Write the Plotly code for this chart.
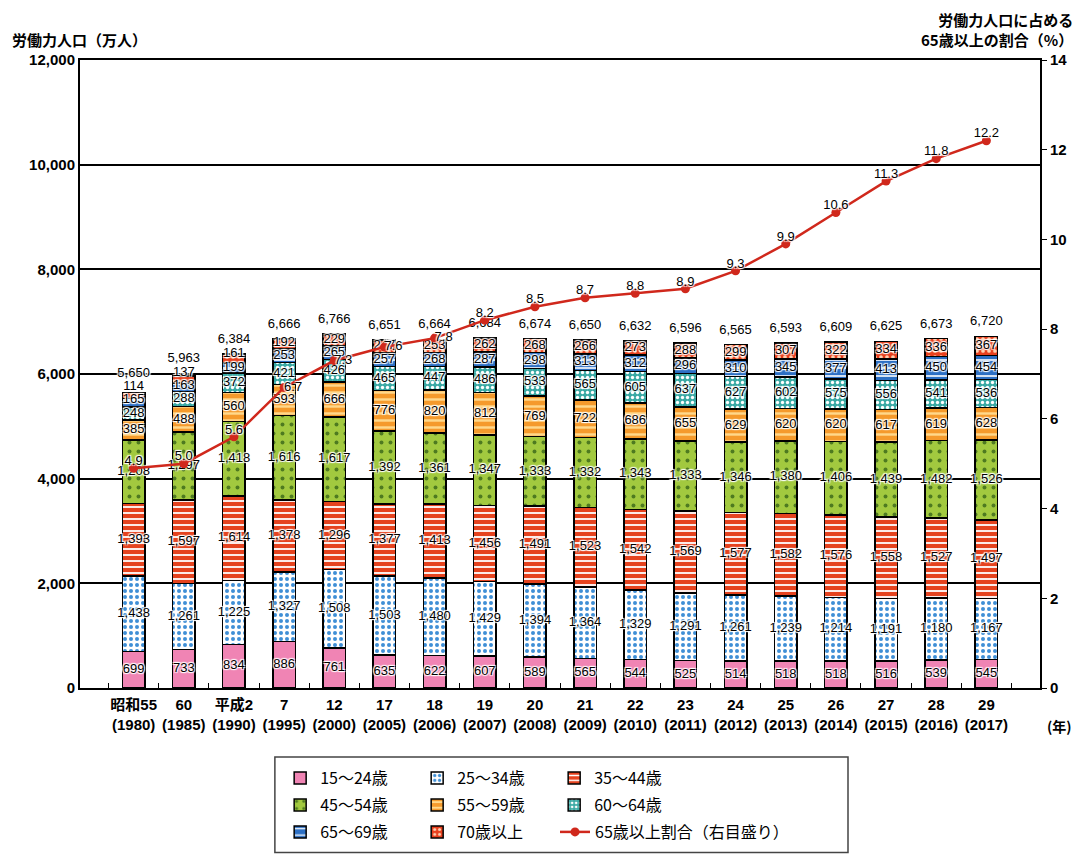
import plotly.graph_objects as go

categories = ["昭和55<br>(1980)", "60<br>(1985)", "平成2<br>(1990)", "7<br>(1995)", "12<br>(2000)",
              "17<br>(2005)", "18<br>(2006)", "19<br>(2007)", "20<br>(2008)", "21<br>(2009)",
              "22<br>(2010)", "23<br>(2011)", "24<br>(2012)", "25<br>(2013)", "26<br>(2014)",
              "27<br>(2015)", "28<br>(2016)", "29<br>(2017)"]

age_15_24 = [699, 733, 834, 886, 761, 635, 622, 607, 589, 565, 544, 525, 514, 518, 518, 516, 539, 545]
age_25_34 = [1438, 1261, 1225, 1327, 1508, 1503, 1480, 1429, 1394, 1364, 1329, 1291, 1261, 1239, 1214, 1191, 1180, 1167]
age_35_44 = [1393, 1597, 1614, 1378, 1296, 1377, 1413, 1456, 1491, 1523, 1542, 1569, 1577, 1582, 1576, 1558, 1527, 1497]
age_45_54 = [1208, 1297, 1418, 1616, 1617, 1392, 1361, 1347, 1333, 1332, 1343, 1333, 1346, 1380, 1406, 1439, 1482, 1526]
age_55_59 = [385, 488, 560, 593, 666, 776, 820, 812, 769, 722, 686, 655, 629, 620, 620, 617, 619, 628]
age_60_64 = [248, 288, 372, 421, 426, 465, 447, 486, 533, 565, 605, 637, 627, 602, 575, 556, 541, 536]
age_65_69 = [165, 163, 199, 253, 265, 257, 268, 287, 298, 313, 312, 296, 310, 345, 377, 413, 450, 454]
age_70_up = [114, 137, 161, 192, 229, 247, 253, 262, 268, 266, 273, 288, 299, 307, 322, 334, 336, 367]
totals = [5650, 5963, 6384, 6666, 6766, 6651, 6664, 6684, 6674, 6650, 6632, 6596, 6565, 6593, 6609, 6625, 6673, 6720]
ratio_65 = [4.9, 5.0, 5.6, 6.7, 7.3, 7.6, 7.8, 8.2, 8.5, 8.7, 8.8, 8.9, 9.3, 9.9, 10.6, 11.3, 11.8, 12.2]

series_names = ["15～24歳", "25～34歳", "35～44歳", "45～54歳", "55～59歳", "60～64歳", "65～69歳", "70歳以上"]
series_vals = [age_15_24, age_25_34, age_35_44, age_45_54, age_55_59, age_60_64, age_65_69, age_70_up]

# styles: (bg, pattern shape, fg, size, solidity, legend)
styles = [
    ("#F084B4", "", "#F084B4", 8, 0.2, "legend"),
    ("#FFFFFF", ".", "#3F8FD6", 6, 0.35, "legend"),
    ("#E5431F", "-", "#FFFFFF", 6, 0.3, "legend"),
    ("#A2C93F", ".", "#4E7A20", 9, 0.15, "legend2"),
    ("#F59A2C", "-", "#FFD88A", 7, 0.35, "legend2"),
    ("#3AA9A4", ".", "#FFFFFF", 5, 0.35, "legend2"),
    ("#2C6FC4", "-", "#FFFFFF", 8, 0.2, "legend3"),
    ("#E8401E", ".", "#FFD0B0", 6, 0.3, "legend3"),
]

FONT = "Liberation Sans, Arial, Noto Sans CJK JP"
NARROW = "Liberation Sans Narrow, Liberation Sans, Noto Sans CJK JP"
CJK = "Noto Sans CJK JP, Liberation Sans"
HALO = "1px 1px 1px #fff, -1px -1px 1px #fff, 1px -1px 1px #fff, -1px 1px 1px #fff"

fig = go.Figure()
for name, vals, st in zip(series_names, series_vals, styles):
    bg, shape, fg, size, sol, leg = st
    fig.add_trace(go.Bar(
        x=categories, y=vals, name=name, legend=leg,
        marker=dict(color=bg, line=dict(color="black", width=1.5),
                    pattern=dict(shape=shape, fgcolor=fg, bgcolor=bg, size=size,
                                 solidity=sol, fillmode="replace")),
        hoverinfo="skip",
    ))

# segment label positions (data units) with minimum spacing
GAP = 255
lx, ly, lt = [], [], []
tx, ty, tt = [], [], []
for i, cat in enumerate(categories):
    cum = 0
    prev = None
    for vals in series_vals:
        v = vals[i]
        mid = cum + v / 2
        cum += v
        pos = mid if prev is None else max(mid, prev + GAP)
        prev = pos
        lx.append(cat); ly.append(pos); lt.append(f"{v:,}")
    tx.append(cat)
    ty.append(max(totals[i] + 270, prev + GAP))
    tt.append(f"{totals[i]:,}")

fig.add_trace(go.Scatter(
    x=lx, y=ly, text=lt, mode="text", showlegend=False, hoverinfo="skip",
    textfont=dict(family=FONT, size=13, color="black", shadow=HALO),
))
fig.add_trace(go.Scatter(
    x=tx, y=ty, text=tt, mode="text", showlegend=False, hoverinfo="skip",
    textfont=dict(family=FONT, size=13, color="black", shadow=HALO),
))

fig.add_trace(go.Scatter(
    x=categories, y=ratio_65, yaxis="y2", name="65歳以上割合（右目盛り）", legend="legend4",
    mode="lines+markers", line=dict(color="#D0281C", width=2.5),
    marker=dict(color="#D0281C", size=9), hoverinfo="skip",
))
ratio_pos = ["top center"] * 3 + ["middle right"] * 4 + ["top center"] * 11
fig.add_trace(go.Scatter(
    x=categories, y=ratio_65, yaxis="y2", text=[f"{r:.1f}" for r in ratio_65],
    mode="text", textposition=ratio_pos, showlegend=False, hoverinfo="skip",
    textfont=dict(family=FONT, size=13, color="black", shadow=HALO),
))

leg_common = dict(orientation="h", xref="container", yref="container", xanchor="left",
                  yanchor="middle", entrywidth=92, entrywidthmode="pixels",
                  bgcolor="rgba(0,0,0,0)", font=dict(family=CJK, size=16, color="black"),
                  itemwidth=30, traceorder="normal")

fig.update_layout(
    width=1080, height=846,
    margin=dict(l=72, r=48, t=52, b=166),
    paper_bgcolor="white", plot_bgcolor="white",
    barmode="stack", bargap=0.55,
    font=dict(family=FONT, color="black"),
    xaxis=dict(type="category", showline=True, linecolor="black", linewidth=2, mirror=True,
               ticks="inside", tickson="boundaries", ticklen=5, tickcolor="black", tickangle=0,
               ticklabelstandoff=2,
               tickfont=dict(family=NARROW, size=15, color="black", weight="bold"), showgrid=False),
    yaxis=dict(range=[0, 12000], dtick=2000, tickformat=",", showgrid=True, gridcolor="black",
               gridwidth=1.5, showline=True, linecolor="black", linewidth=2, zeroline=False,
               tickfont=dict(family=FONT, size=15, color="black", weight="bold")),
    yaxis2=dict(range=[0, 14], dtick=2, overlaying="y", side="right", showgrid=False,
                showline=True, linecolor="black", linewidth=2, ticks="outside", ticklen=5,
                tickcolor="black", zeroline=False,
                tickfont=dict(family=FONT, size=15, color="black", weight="bold")),
    legend=dict(x=0.252, y=0.0898, **leg_common),
    legend2=dict(x=0.252, y=0.0579, **leg_common),
    legend3=dict(x=0.252, y=0.0260, **leg_common),
    legend4=dict(x=0.5065, y=0.0260, **{**leg_common, "entrywidth": 260}),
    shapes=[dict(type="rect", xref="paper", yref="paper", x0=0.203, x1=0.8, y0=-0.262, y1=-0.11,
                 line=dict(color="#444", width=1.5), fillcolor="rgba(0,0,0,0)", layer="below")],
    annotations=[
        dict(text="労働力人口（万人）", xref="paper", yref="paper", x=-0.073, y=1.012,
             xanchor="left", yanchor="bottom", showarrow=False,
             font=dict(family=CJK, size=15, color="black", weight="bold")),
        dict(text="労働力人口に占める<br>65歳以上の割合（%）", xref="paper", yref="paper", x=1.036, y=1.012,
             xanchor="right", yanchor="bottom", align="right", showarrow=False,
             font=dict(family=CJK, size=15, color="black", weight="bold")),
        dict(text="(年)", xref="paper", yref="paper", x=1.005, y=-0.06, xanchor="left",
             yanchor="middle", showarrow=False,
             font=dict(family=CJK, size=14, color="black", weight="bold")),
    ],
)

fig.write_html("out.html")
